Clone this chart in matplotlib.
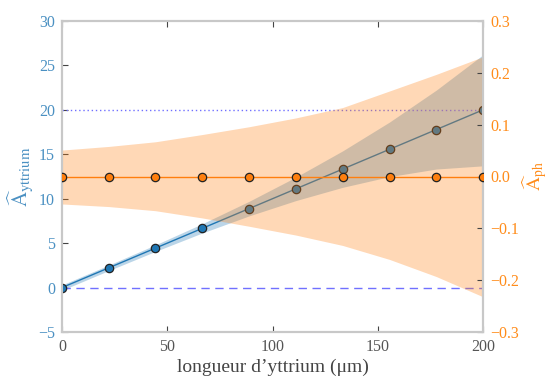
import matplotlib
matplotlib.use("Agg")
import matplotlib.pyplot as plt
import numpy as np

# ---- data ----
x_um = [0.0, 22.2, 44.4, 66.7, 88.9, 111.1, 133.3, 155.6, 177.8, 200.0]
a_yttrium = [0.0, 2.22, 4.44, 6.67, 8.89, 11.11, 13.33, 15.56, 17.78, 20.0]
a_ytt_low = [-0.30, 1.91, 4.07, 6.15, 8.07, 9.79, 11.28, 12.49, 13.34, 13.70]
a_ytt_high = [0.30, 2.53, 4.81, 7.19, 9.71, 12.43, 15.38, 18.63, 22.22, 26.20]
a_ph = [0.0, 0.0, 0.0, 0.0, 0.0, 0.0, 0.0, 0.0, 0.0, 0.0]
a_ph_low = [-0.053, -0.058, -0.066, -0.080, -0.096, -0.113, -0.133, -0.160, -0.193, -0.232]
a_ph_high = [0.051, 0.058, 0.067, 0.081, 0.096, 0.113, 0.133, 0.165, 0.197, 0.231]
ref_true = 20.0
ref_zero = 0.0
left_ticks = [-5, 0, 5, 10, 15, 20, 25, 30]
right_ticks = [-0.3, -0.2, -0.1, 0.0, 0.1, 0.2, 0.3]
x_ticks = [0, 50, 100, 150, 200]

plt.rcParams['font.family'] = ['Liberation Serif', 'DejaVu Serif']
plt.rcParams['mathtext.fontset'] = 'stix'
plt.rcParams['axes.unicode_minus'] = True

blue = '#1f77b4'
orange = '#ff7f0e'
lblue = '#4a90c2'
lorange = '#ff8c1a'
spine_c = '#c8c8c8'

fig = plt.figure(figsize=(5.48, 3.76), dpi=100)
ax = fig.add_axes([62/548, 1-332/376, (483-62)/548, (332-21)/376])
ax2 = ax.twinx()

ax.fill_between(x_um, a_ytt_low, a_ytt_high, color=blue, alpha=0.3, lw=0)
ax.plot(x_um, a_yttrium, color=blue, lw=1, marker='o', ms=6,
        mfc=blue, mec='#222222', mew=0.9, zorder=3)
ax.axhline(ref_true, color='#7070ff', ls=(0, (1, 2)), lw=1)
ax.axhline(ref_zero, color='#7070ff', ls=(0, (6, 4)), lw=1)

ax2.fill_between(x_um, a_ph_low, a_ph_high, color=orange, alpha=0.3, lw=0)
ax2.plot(x_um, a_ph, color=orange, lw=1, marker='o', ms=6,
         mfc=orange, mec='#222222', mew=0.9, zorder=3)

ax.set_xlim(0, 200)
ax.set_ylim(-5, 30)
ax2.set_ylim(-0.3, 0.3)
ax.set_xticks(x_ticks)
ax.set_yticks(left_ticks)
ax2.set_yticks(right_ticks)
ax.set_xticklabels([str(v) for v in x_ticks])
ax.set_yticklabels([('\u2212' + str(-v)) if v < 0 else str(v) for v in left_ticks])
ax2.set_yticklabels([('\u2212%.1f' % -v) if v < 0 else '%.1f' % v for v in right_ticks])

for a in (ax, ax2):
    for s in a.spines.values():
        s.set_color(spine_c)
        s.set_linewidth(1.5)
ax.tick_params(axis='x', direction='in', top=True, length=4, width=0.8,
               color='#444444', labelcolor='#555555', labelsize=11.5, pad=5)
ax.tick_params(axis='y', direction='in', length=4, width=0.8,
               color='#444444', labelcolor=lblue, labelsize=11.5, pad=5)
ax2.tick_params(axis='y', direction='in', length=4, width=0.8,
                color='#444444', labelcolor=lorange, labelsize=11.5, pad=5)

ax.set_xlabel('longueur d\u2019yttrium (\u03bcm)', fontsize=14, color='#444444', labelpad=3)
ax.set_ylabel(r'$\widehat{\mathrm{A}}_{\mathrm{yttrium}}$', fontsize=15, color=lblue, labelpad=2)
ax2.set_ylabel(r'$\widehat{\mathrm{A}}_{\mathrm{ph}}$', fontsize=14, color=lorange, labelpad=1)

fig.savefig('out.png', dpi=100)
